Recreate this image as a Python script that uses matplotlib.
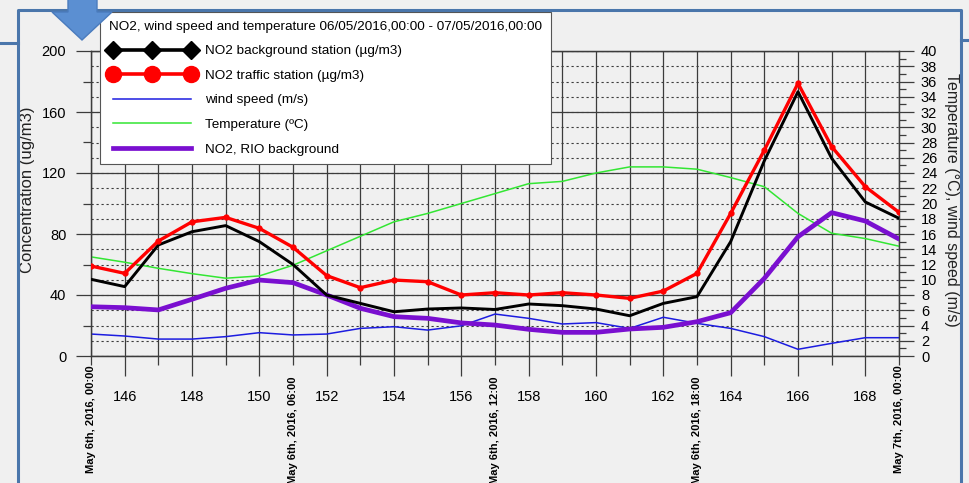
import matplotlib
matplotlib.use("Agg")
import matplotlib.pyplot as plt
from matplotlib.lines import Line2D
from matplotlib.patches import Polygon
from matplotlib import font_manager

# hourly values, 06/05/2016 00:00 (hour 145) to 07/05/2016 00:00 (hour 169)
hours = list(range(145, 170))
no2_background = [50.3, 45.5, 72.8, 81.5, 85.5, 75.0, 60.0, 40.0, 34.5, 29.0,
                  30.8, 31.5, 30.5, 34.1, 33.0, 30.8, 26.4, 34.5, 38.9, 75.0,
                  128.0, 173.3, 129.6, 101.0, 90.3]
no2_traffic = [59.0, 54.2, 75.4, 88.0, 90.9, 83.7, 71.3, 52.7, 44.8, 49.8,
               48.7, 40.0, 41.5, 40.0, 41.5, 40.0, 37.8, 42.6, 54.2, 93.5,
               135.0, 178.8, 137.3, 111.0, 94.2]
no2_rio = [32.3, 31.7, 30.2, 37.2, 44.4, 49.8, 48.1, 40.0, 31.3, 25.8,
           24.7, 21.7, 20.3, 17.5, 15.5, 15.5, 17.7, 18.8, 22.5, 28.4,
           50.9, 78.2, 94.0, 88.5, 76.7]
wind_speed = [2.88, 2.62, 2.22, 2.22, 2.54, 3.06, 2.76, 2.88, 3.62, 3.84,
              3.40, 3.96, 5.50, 4.94, 4.20, 4.38, 3.62, 5.08, 4.28, 3.62,
              2.54, 0.88, 1.66, 2.40, 2.40]
temperature = [13.0, 12.3, 11.5, 10.8, 10.2, 10.5, 11.9, 13.8, 15.7, 17.6,
               18.7, 20.0, 21.3, 22.6, 22.9, 24.0, 24.8, 24.8, 24.5, 23.4,
               22.2, 18.7, 16.1, 15.4, 14.4]

date_hours = [145, 151, 157, 163, 169]
date_labels = ["May 6th, 2016, 00:00", "May 6th, 2016, 06:00",
               "May 6th, 2016, 12:00", "May 6th, 2016, 18:00",
               "May 7th, 2016, 00:00"]

legend_title = "NO2, wind speed and temperature 06/05/2016,00:00 - 07/05/2016,00:00"
series_labels = ["NO2 background station (\u00b5g/m3)", "NO2 traffic station (\u00b5g/m3)",
                 "wind speed (m/s)", "Temperature (\u00baC)", "NO2, RIO background"]

names = {f.name for f in font_manager.fontManager.ttflist}
NARROW = "Liberation Sans Narrow" if "Liberation Sans Narrow" in names else "Liberation Sans"
plt.rcParams["font.family"] = [NARROW, "DejaVu Sans"]

W, H = 969, 483
BG = "#f0f0f0"
FRAME = "#4a76ab"
GRID = "#3c3c3c"
BLUE, GREEN, PURPLE = "#1c1ce0", "#33e633", "#7a0fd0"


def fpos(x, y):
    # pixel position -> figure fraction
    return x / W, 1 - y / H


fig = plt.figure(figsize=(W / 100, H / 100), dpi=100, facecolor=BG)
ax = fig.add_axes([91 / W, 1 - 356 / H, (899 - 91) / W, (356 - 51) / H])
ax2 = ax.twinx()
ax.set_zorder(ax2.get_zorder() + 1)
ax.patch.set_visible(False)

ax.set_xlim(hours[0], hours[-1])
ax.set_ylim(0, 200)
ax2.set_ylim(0, 40)

# lines: wind/temperature use the right-hand scale
ax.plot(hours, wind_speed, color=BLUE, lw=1.1, transform=ax2.transData, zorder=2)
ax.plot(hours, temperature, color=GREEN, lw=1.1, transform=ax2.transData, zorder=2)
ax.plot(hours, no2_rio, color=PURPLE, lw=3.4, zorder=3, solid_capstyle="round")
ax.plot(hours, no2_background, color="black", lw=2.1, zorder=4)
ax.plot(hours, no2_traffic, color="red", lw=2.4, marker="o", ms=3.5, zorder=5)

# ticks
ax.set_xticks(range(146, 169, 2))
ax.set_xticks(range(145, 170, 2), minor=True)
ax.set_yticks(range(0, 201, 40))
ax.set_yticks(range(20, 200, 40), minor=True)
ax2.set_yticks(range(0, 41, 2))
ax2.set_yticks(range(1, 40, 2), minor=True)

ax.tick_params(axis="x", which="major", length=14.5, width=0.9, color=GRID,
               labelsize=10.5, pad=10)
ax.tick_params(axis="x", which="minor", length=6.5, width=0.9, color=GRID)
ax.tick_params(axis="y", which="major", length=10.8, width=0.9, color=GRID,
               labelsize=10.5, pad=7)
ax.tick_params(axis="y", which="minor", length=5.8, width=0.9, color=GRID)
ax2.tick_params(axis="y", which="major", length=10.8, width=0.9, color=GRID,
                labelsize=10.5, pad=5)
ax2.tick_params(axis="y", which="minor", length=5, width=0.9, color=GRID)

for a in (ax, ax2):
    for s in a.spines.values():
        s.set_color(GRID)
        s.set_linewidth(0.9)

ax.set_axisbelow(True)
ax.xaxis.grid(True, which="both", color=GRID, lw=0.9, ls="-")
ax.yaxis.grid(True, which="major", color=GRID, lw=0.9, ls="-")
ax2.yaxis.grid(True, which="major", color=GRID, lw=0.8, ls=(0, (2, 2.5)))

# date labels under the hour axis
for h, lab in zip(date_hours, date_labels):
    drop = 9 if h in (hours[0], hours[-1]) else 20
    ax.annotate(lab, xy=(h, 0), xycoords=ax.get_xaxis_transform(),
                xytext=(0, -drop * 0.72), textcoords="offset points",
                rotation=90, ha="center", va="top", fontsize=8,
                fontweight="bold", family="Liberation Sans")

fig.text(*fpos(28, 190), "Concentration (ug/m3)", rotation=90, ha="center",
         va="center", fontsize=12, family="Liberation Sans", color="#222222")
fig.text(*fpos(951, 200), "Temperature (\u00b0C), wind speed (m/s)", rotation=-90,
         ha="center", va="center", fontsize=11.5, family="Liberation Sans",
         color="#222222")

# legend
handles = [
    Line2D([], [], color="black", lw=2.6, marker="D", ms=9),
    Line2D([], [], color="red", lw=2.6, marker="o", ms=11.5),
    Line2D([], [], color=BLUE, lw=1.1),
    Line2D([], [], color=GREEN, lw=1.1),
    Line2D([], [], color=PURPLE, lw=3.4),
]
leg = ax.legend(handles, series_labels, title=legend_title, numpoints=3,
                loc="upper left", bbox_to_anchor=fpos(100, 12),
                bbox_transform=fig.transFigure, borderaxespad=0,
                fontsize=9.7, title_fontsize=9.7, handlelength=6.4,
                handletextpad=0.77, labelspacing=0.9, borderpad=0.65,
                fancybox=False, framealpha=1, edgecolor="#555555")
leg.get_frame().set_linewidth(0.8)
leg._legend_box.align = "left"

# slide frame and arrow around the chart
fig.add_artist(Line2D([fpos(18, 0)[0], fpos(18, 0)[0], fpos(961, 0)[0], fpos(961, 0)[0]],
                      [fpos(0, 490)[1], fpos(0, 10)[1], fpos(0, 10)[1], fpos(0, 490)[1]],
                      color=FRAME, lw=2.2, transform=fig.transFigure, zorder=6))
fig.add_artist(Line2D([0, fpos(18, 0)[0]], [fpos(0, 43)[1]] * 2, color=FRAME, lw=2.2,
                      transform=fig.transFigure, zorder=6))
fig.add_artist(Line2D([fpos(961, 0)[0], 1], [fpos(0, 40)[1]] * 2, color=FRAME, lw=2.2,
                      transform=fig.transFigure, zorder=6))
arrow = [(68, -2), (97, -2), (97, 12), (112, 12), (82, 40), (52, 12), (68, 12)]
fig.add_artist(Polygon([fpos(x, y) for x, y in arrow], closed=True,
                       facecolor="#5b8fd2", edgecolor="#4a7bbd", lw=1,
                       transform=fig.transFigure, zorder=10))

fig.savefig("out.png", dpi=100, facecolor=BG)
